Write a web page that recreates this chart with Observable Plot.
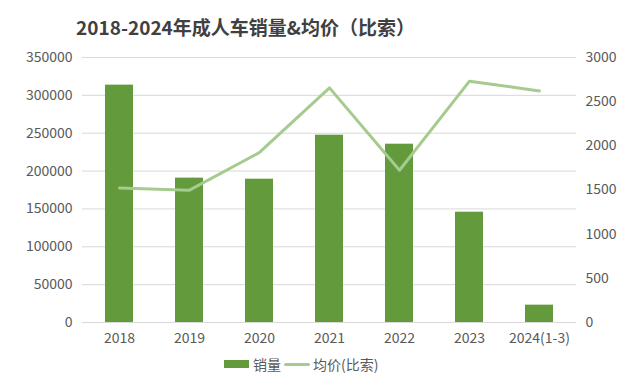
<!DOCTYPE html>
<html>
<head>
<meta charset="utf-8">
<script src="https://cdn.jsdelivr.net/npm/d3@7"></script>
<script src="https://cdn.jsdelivr.net/npm/@observablehq/plot@0.6"></script>
<style>
  html, body { margin: 0; padding: 0; background: #fff; }
  #wrap { position: relative; width: 640px; height: 391px; overflow: hidden; font-family: "Noto Sans CJK SC", "Noto Sans", sans-serif; }
  #title { position: absolute; left: 0; width: 491px; top: 13px; text-align: center; font-size: 19px; font-weight: bold; color: #404040; white-space: nowrap; }
  #legend { position: absolute; top: 354px; left: 224px; display: flex; align-items: center; font-size: 14px; color: #595959; white-space: nowrap; }
  .sw-bar { width: 25px; height: 8px; background: #629A3C; margin-right: 4px; }
  .sw-line { width: 26px; height: 3px; background: #A6CB8E; border-radius: 2px; margin: 0 3px 0 3px; }
  #chart { position: absolute; left: 0; top: 0; }
</style>
</head>
<body>
<div id="wrap">
  <div id="chart"></div>
  <div id="title">2018-2024年成人车销量&amp;均价（比索）</div>
  <div id="legend"><div class="sw-bar"></div><span>销量</span><div class="sw-line"></div><span>均价(比索)</span></div>
</div>
<script>
const categories = ["2018", "2019", "2020", "2021", "2022", "2023", "2024(1-3)"];
const sales = [313500, 190700, 189300, 247400, 235500, 145700, 22900];
const price = [1524, 1498, 1925, 2656, 1724, 2732, 2622];
const leftTicks = [0, 50000, 100000, 150000, 200000, 250000, 300000, 350000];
const rightTicks = [0, 500, 1000, 1500, 2000, 2500, 3000];
const leftMax = 350000, rightMax = 3000;

const rows = categories.map((c, i) => ({cat: c, sales: sales[i], price: price[i]}));
const toLeft = v => v * leftMax / rightMax;

const chart = Plot.plot({
  width: 640,
  height: 391,
  marginTop: 57,
  marginBottom: 69,
  marginLeft: 82,
  marginRight: 64,
  style: {fontFamily: "'Noto Sans CJK SC', 'Noto Sans', sans-serif", fontSize: "14px", color: "#595959", background: "transparent"},
  x: {domain: categories, paddingInner: 0.6, paddingOuter: 0.3},
  y: {domain: [0, leftMax]},
  marks: [
    Plot.gridY(leftTicks, {stroke: "#d9d9d9", strokeOpacity: 1, strokeWidth: 1}),
    Plot.barY(rows, {x: "cat", y: "sales", fill: "#629A3C"}),
    Plot.line(rows, {x: "cat", y: d => toLeft(d.price), stroke: "#A6CB8E", strokeWidth: 3, strokeLinecap: "round", strokeLinejoin: "round"}),
    Plot.axisY(leftTicks, {anchor: "left", tickSize: 0, tickPadding: 10, fontSize: 14, label: null, tickFormat: d => String(d)}),
    Plot.axisY(rightTicks.map(toLeft), {anchor: "right", tickSize: 0, tickPadding: 9, fontSize: 14, label: null, tickFormat: d => String(Math.round(d * rightMax / leftMax))}),
    Plot.axisX({tickSize: 0, tickPadding: 11, fontSize: 14, label: null})
  ]
});
document.getElementById("chart").appendChild(chart);
</script>
</body>
</html>
